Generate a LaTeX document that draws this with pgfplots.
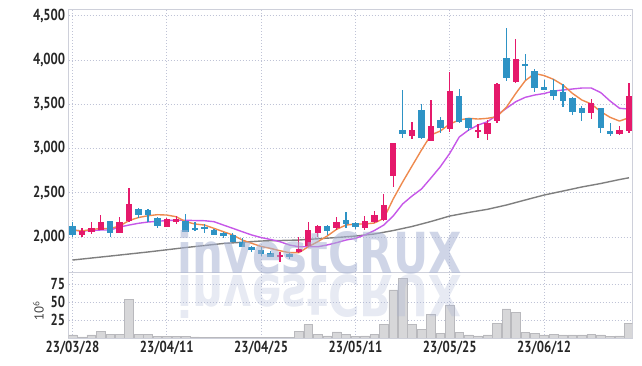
\documentclass[border=0pt]{standalone}
\usepackage{pgfplots}
\usepackage{pgfplotstable}
\pgfplotsset{compat=1.18}
\usepackage{fontspec}
\usepackage{graphicx}
\setmainfont{PT Sans}
\newfontfamily\tickfont{PT Sans Bold}[FakeStretch=0.80]
\newfontfamily\wmfont{DejaVu Sans}
\definecolor{cup}{HTML}{E5196B}
\definecolor{cdn}{HTML}{2E93C5}
\definecolor{maA}{HTML}{EE8A4E}
\definecolor{maB}{HTML}{C657E8}
\definecolor{maC}{HTML}{7F7F7F}
\definecolor{gridc}{HTML}{BFC3D6}
\definecolor{framec}{HTML}{CED0DA}
\definecolor{volf}{HTML}{D7D7D9}
\definecolor{vold}{HTML}{B9B9BD}
\definecolor{wm}{HTML}{A8B3D3}

\pgfplotstableread{
i O H L C
1 2023 2100 2004 2065
2 2053 2166 2034 2102
3 2080 2248 2075 2170
5 2045 2222 2040 2170
6 2184 2550 2175 2370
10 2118 2210 2110 2200
11 2170 2240 2148 2202
22 1771 1834 1721 1793
24 1827 2004 1823 1868
25 1898 2166 1890 2079
26 2049 2135 2004 2124
28 2105 2229 2079 2173
31 2105 2237 2079 2181
32 2173 2293 2160 2248
33 2192 2482 2184 2361
34 2692 3060 2561 3058
36 3140 3293 3103 3208
38 3087 3547 3080 3253
40 3223 3860 3189 3648
43 3189 3272 3114 3202
44 3163 3320 3095 3285
45 3313 3740 3284 3727
47 3753 4235 3742 4006
55 3403 3555 3329 3510
58 3160 3257 3155 3208
59 3200 3742 3171 3592
}\upc

\pgfplotstableread{
i O H L C
0 2124 2170 2000 2020
4 2180 2185 2000 2040
7 2316 2327 2215 2252
8 2305 2318 2166 2250
9 2211 2222 2105 2128
12 2184 2256 2055 2060
13 2098 2165 2070 2082
14 2116 2147 2042 2087
15 2079 2087 2020 2024
16 2042 2060 1985 2011
17 2026 2042 1940 1947
18 1947 1985 1884 1890
19 1884 1902 1827 1853
20 1853 1884 1790 1812
21 1823 1846 1771 1778
23 1808 1823 1748 1771
27 2124 2135 2023 2071
29 2192 2286 2098 2147
30 2155 2165 2087 2116
35 3208 3660 3114 3163
37 3434 3498 3103 3121
39 3321 3351 3171 3234
41 3592 3668 3284 3302
42 3340 3345 3200 3234
46 4017 4356 3765 3799
48 3953 4063 3773 3934
49 3874 3893 3640 3686
50 3697 3773 3655 3660
51 3660 3780 3547 3595
52 3640 3727 3464 3539
53 3573 3580 3377 3415
54 3460 3479 3313 3403
56 3453 3460 3178 3234
57 3200 3284 3144 3160
}\dnc

\pgfplotstableread{
i v
0 4.2
1 1.4
2 4.2
3 8.7
4 5.5
5 5.5
6 54
7 5.5
8 5.5
9 2.7
10 2.7
11 1.8
12 2.7
13 1.5
14 1.2
15 1.0
16 1.0
17 1.0
18 1.0
19 1.0
20 0.8
21 0.6
22 0.6
23 1.2
24 8.7
25 18.5
26 4.6
27 3.0
28 8.5
29 4.6
30 1.8
31 3.0
32 4.6
33 19.4
34 66.7
35 82.8
36 19.4
37 12.5
38 33.3
39 6.5
40 44.9
41 8.3
42 4.2
43 2.8
44 4.2
45 20.8
46 40.3
47 35.1
48 8.3
49 6.5
50 4.2
51 5.5
52 4.2
53 4.2
54 4.2
55 5.5
56 4.2
57 1.8
58 2.8
59 20.8
}\vol

\pgfplotsset{
  base/.style={
    scale only axis, width=563.6bp,
    xmin=-0.4, xmax=59.35,
    axis line style={framec, line width=0.8bp},
    major tick length=0pt,
    grid=major,
    major grid style={gridc, line width=0.7bp, dash pattern=on 1bp off 2bp},
    xtick={0,10,20,30,40,50},
    tick label style={font=\tickfont\fontsize{16}{16}\selectfont, text=black!85},
    /pgf/number format/assume math mode=true,
  },
  candle wick/.style={only marks, mark=*, mark size=0pt, mark options={draw=none, fill=none}, forget plot,
    error bars/.cd, y dir=both, y explicit, error mark=none,
    error bar style={draw=#1, line width=1.2bp}},
  candle body/.style={only marks, mark=*, mark size=0pt, mark options={draw=none, fill=none}, forget plot,
    error bars/.cd, y dir=both, y explicit, error mark=none,
    error bar style={draw=#1, line width=6.4bp}},
}

\begin{document}
\begin{tikzpicture}
\path[use as bounding box] (0,0) rectangle (642bp,366bp);

\begin{axis}[base,
  at={(68.7bp,94bp)}, anchor=south west, height=262.7bp,
  ymin=1605, ymax=4571,
  ytick={2000,2500,3000,3500,4000,4500},
  yticklabels={{2,000},{2,500},{3,000},{3,500},{4,000},{4,500}},
  xticklabels={},
]
% long moving average
\addplot[maC, line width=1.4bp] coordinates {
(0,1740) (4,1785) (8,1831) (12,1881) (16,1927) (20,1955) (24,1966) (28,1994)
(30,2011) (32,2034) (34,2073) (36,2119) (38,2175) (40,2237) (42,2277) (44,2313)
(46,2361) (48,2418) (50,2474) (52,2519) (54,2565) (56,2604) (58,2649) (59,2669)};
% 10-day
\addplot[maB, line width=1.4bp, line join=round] coordinates {
(0,2079) (1,2068) (2,2073) (3,2079) (4,2079) (5,2113) (6,2135) (7,2155) (8,2169) (9,2177)
(10,2186) (11,2189) (12,2189) (13,2186) (14,2184) (15,2173) (16,2135) (17,2098) (18,2060) (19,2023)
(20,1994) (21,1972) (22,1947) (23,1910) (24,1890) (25,1890) (26,1890) (27,1910) (28,1936) (29,1966)
(30,1985) (31,2023) (32,2073) (33,2135) (34,2237) (35,2373) (36,2463) (37,2542) (38,2666) (39,2794)
(40,2945) (41,3129) (42,3208) (43,3264) (44,3302) (45,3377) (46,3453) (47,3528) (48,3577) (49,3603)
(50,3620) (51,3648) (52,3660) (53,3671) (54,3682) (55,3682) (56,3631) (57,3535) (58,3453) (59,3445)};
% 5-day
\addplot[maA, line width=1.4bp, line join=round] coordinates {
(0,2079) (1,2068) (2,2085) (3,2096) (4,2096) (5,2124) (6,2186) (7,2220) (8,2240) (9,2252)
(10,2248) (11,2229) (12,2173) (13,2147) (14,2135) (15,2098) (16,2060) (17,2023) (18,1966) (19,1929)
(20,1893) (21,1872) (22,1845) (23,1823) (24,1823) (25,1890) (26,1947) (27,2011) (28,2087) (29,2135)
(30,2147) (31,2147) (32,2158) (33,2209) (34,2429) (35,2621) (36,2802) (37,2982) (38,3152) (39,3197)
(40,3276) (41,3321) (42,3340) (43,3332) (44,3340) (45,3358) (46,3464) (47,3622) (48,3765) (49,3846)
(50,3823) (51,3780) (52,3716) (53,3622) (54,3547) (55,3502) (56,3416) (57,3351) (58,3309) (59,3347)};
% candles
\addplot[candle wick=cup] table[x=i, y expr={(\thisrow{H}+\thisrow{L})/2}, y error expr={(\thisrow{H}-\thisrow{L})/2}] {\upc};
\addplot[candle wick=cdn] table[x=i, y expr={(\thisrow{H}+\thisrow{L})/2}, y error expr={(\thisrow{H}-\thisrow{L})/2}] {\dnc};
\addplot[candle body=cup] table[x=i, y expr={(\thisrow{O}+\thisrow{C})/2}, y error expr={max(abs(\thisrow{C}-\thisrow{O})/2,8)}] {\upc};
\addplot[candle body=cdn] table[x=i, y expr={(\thisrow{O}+\thisrow{C})/2}, y error expr={max(abs(\thisrow{C}-\thisrow{O})/2,8)}] {\dnc};
\end{axis}

\begin{axis}[base,
  at={(68.7bp,28bp)}, anchor=south west, height=66bp,
  ymin=0, ymax=91.7,
  ytick={25,50,75},
  xticklabels={23/03/28,23/04/11,23/04/25,23/05/11,23/05/25,23/06/12},
  ylabel={10\textsuperscript{6}},
  ylabel style={font=\fontsize{13}{13}\selectfont, text=black!75, xshift=-6bp},
]
\addplot[ybar, bar width=0.92, fill=volf, draw=vold, line width=0.6bp] table[x=i, y=v] {\vol};
\end{axis}

% watermark and its reflection
\node[anchor=south, inner sep=0pt, text=wm, opacity=0.55] at (320bp,91bp)
  {\resizebox{284bp}{43bp}{\wmfont\bfseries investCRUX}};
\node[anchor=north, inner sep=0pt, text=wm, opacity=0.28] at (320bp,91bp)
  {\scalebox{1}[-1]{\resizebox{284bp}{43bp}{\wmfont\bfseries investCRUX}}};
\end{tikzpicture}
\end{document}
